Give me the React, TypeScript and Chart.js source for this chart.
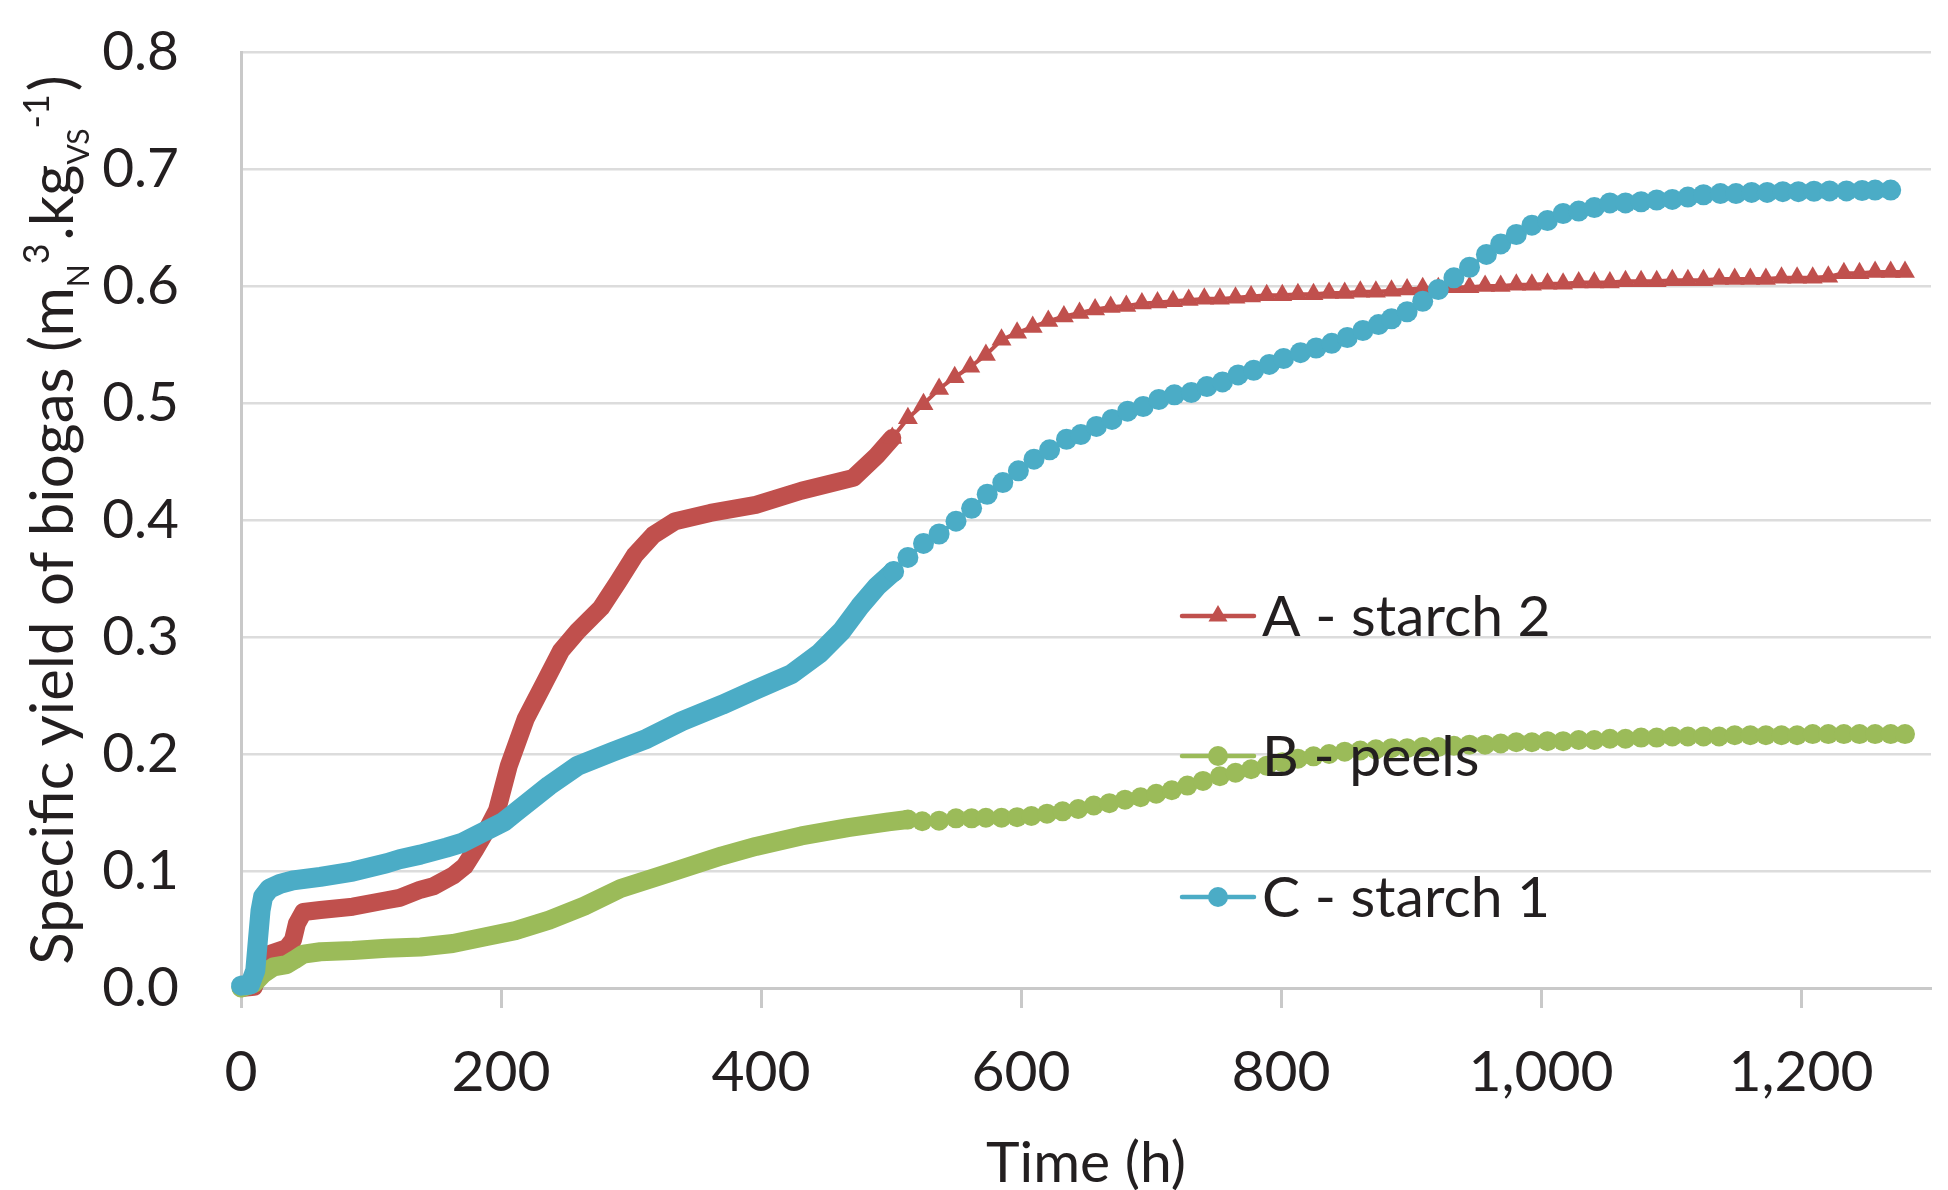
import React, { useEffect, useRef } from 'react';
import { Chart, registerables } from 'chart.js';

Chart.register(...registerables);

// ---------- DATA ----------
const seriesLabels = ['A - starch 2', 'B - peels', 'C - starch 1'];

// A - starch 2
const starch2Time = [
  0, 10, 14, 17, 22, 35, 40, 43, 48, 61, 86, 112, 122, 138, 148, 163, 172, 180, 189, 197, 206, 219, 233, 246, 259, 277, 290, 303, 317, 334, 361, 396, 431, 471, 489,
  501, 513, 525, 537, 549, 561, 573, 585, 597, 609, 621, 633, 645, 657, 669, 681, 693, 705, 717, 729, 741, 753, 765, 777, 789, 801,
  813, 825, 837, 849, 861, 873, 885, 897, 909, 921, 933, 945, 957, 969, 981, 993, 1005, 1017, 1029, 1041, 1053, 1065, 1077, 1089,
  1101, 1113, 1125, 1137, 1149, 1161, 1173, 1185, 1197, 1209, 1221, 1233, 1245, 1257, 1269, 1280,
];
const starch2Value = [
  0.0, 0.001, 0.015, 0.026, 0.029, 0.034, 0.041, 0.055, 0.065, 0.0667, 0.0695, 0.075, 0.077, 0.084, 0.087, 0.096, 0.104, 0.118, 0.135, 0.152, 0.19, 0.23, 0.26, 0.288, 0.305, 0.325, 0.347, 0.37, 0.387, 0.399, 0.406, 0.413, 0.425, 0.436, 0.455,
  0.47, 0.487, 0.499, 0.512, 0.522, 0.531, 0.541, 0.554, 0.56, 0.565, 0.57, 0.574, 0.577, 0.58, 0.582, 0.583, 0.585, 0.586, 0.587, 0.588, 0.589, 0.589, 0.59, 0.591, 0.592, 0.592,
  0.593, 0.593, 0.594, 0.594, 0.595, 0.595, 0.596, 0.597, 0.598, 0.598, 0.599, 0.599, 0.6, 0.6, 0.601, 0.601, 0.602, 0.602, 0.603, 0.603, 0.603, 0.604, 0.604, 0.604,
  0.605, 0.605, 0.605, 0.606, 0.606, 0.606, 0.606, 0.607, 0.607, 0.607, 0.608, 0.611, 0.611, 0.612, 0.612, 0.612,
];

// B - peels
const peelsTime = [
  0, 10, 17, 25, 35, 41, 48, 61, 86, 112, 138, 163, 189, 211, 237, 264, 292, 334, 370, 396, 431, 467, 498,
  513, 524, 537, 550, 562, 573, 585, 597, 608, 620, 632, 644, 656, 668, 680, 692, 704, 716, 728, 740, 753, 765, 777, 789, 801,
  813, 825, 837, 849, 861, 873, 885, 897, 909, 921, 933, 945, 957, 969, 981, 993, 1005, 1017, 1029, 1041, 1053, 1065, 1077, 1089,
  1101, 1113, 1125, 1137, 1149, 1161, 1173, 1185, 1197, 1209, 1221, 1233, 1245, 1257, 1269, 1280,
];
const peelsValue = [
  0.0, 0.004, 0.012, 0.018, 0.02, 0.024, 0.029, 0.031, 0.032, 0.034, 0.035, 0.038, 0.044, 0.049, 0.058, 0.07, 0.085, 0.1, 0.113, 0.121, 0.13, 0.137, 0.142,
  0.144, 0.1425, 0.143, 0.145, 0.145, 0.1455, 0.1455, 0.146, 0.147, 0.149, 0.151, 0.153, 0.156, 0.158, 0.161, 0.163, 0.166, 0.169, 0.173, 0.177, 0.181, 0.184, 0.187, 0.19, 0.193,
  0.196, 0.198, 0.2, 0.202, 0.203, 0.204, 0.205, 0.205, 0.206, 0.206, 0.207, 0.208, 0.208, 0.209, 0.21, 0.21, 0.211, 0.211, 0.212, 0.212, 0.213, 0.213, 0.214, 0.214,
  0.215, 0.215, 0.215, 0.215, 0.216, 0.216, 0.216, 0.216, 0.216, 0.217, 0.217, 0.217, 0.217, 0.217, 0.217, 0.217,
];

// C - starch 1
const starch1Time = [
  0, 7, 11, 13, 15, 17, 22, 30, 40, 61, 86, 112, 122, 138, 158, 170, 184, 202, 211, 237, 259, 286, 312, 339, 370, 396, 423, 445, 462, 476, 489,
  502, 513, 525, 537, 550, 562, 574, 586, 598, 610, 622, 635, 646, 658, 670, 682, 694, 706, 718, 731, 743, 755, 767, 779, 791, 802,
  815, 827, 839, 851, 863, 875, 885, 897, 909, 921, 933, 945, 958, 969, 981, 993, 1005, 1017, 1029, 1041, 1053, 1065, 1077, 1089,
  1101, 1113, 1125, 1138, 1150, 1162, 1174, 1186, 1198, 1210, 1222, 1235, 1247, 1257, 1269,
];
const starch1Value = [
  0.002, 0.003, 0.015, 0.041, 0.066, 0.078, 0.085, 0.089, 0.092, 0.095, 0.0995, 0.1066, 0.11, 0.114, 0.12, 0.124, 0.132, 0.142, 0.15, 0.173, 0.19, 0.202, 0.213, 0.228, 0.242, 0.255, 0.268, 0.286, 0.305, 0.326, 0.343,
  0.356, 0.368, 0.38, 0.388, 0.399, 0.41, 0.422, 0.432, 0.442, 0.452, 0.46, 0.469, 0.473, 0.48, 0.486, 0.493, 0.497, 0.503, 0.507, 0.509, 0.514, 0.518, 0.524, 0.528, 0.533, 0.538,
  0.543, 0.547, 0.551, 0.556, 0.562, 0.567, 0.572, 0.578, 0.587, 0.597, 0.607, 0.616, 0.627, 0.636, 0.644, 0.652, 0.656, 0.662, 0.664, 0.667, 0.671, 0.671, 0.672, 0.6735,
  0.674, 0.676, 0.678, 0.679, 0.679, 0.68, 0.68, 0.6806, 0.6806, 0.681, 0.6813, 0.6813, 0.6816, 0.682, 0.682,
];

const xAxisTitle = 'Time (h)';
// y-axis title pieces: [text, kind]
const yTitleParts: [string, string][] = [
  ['Specific yield of biogas (m', 'n'],
  ['N', 'sub'],
  ['3', 'sup'],
  ['.kg', 'n'],
  ['VS', 'sub'],
  ['-1', 'sup'],
  [')', 'n'],
];

// ---------- STYLE ----------
const W = 1948;
const H = 1190;
const FONT = 'Lato, "Open Sans", "DejaVu Sans", sans-serif';
const TEXT = '#231f20';
const RED = '#C0504D';
const GREEN = '#9BBB59';
const BLUE = '#4BACC6';

const toPoints = (t: number[], v: number[]) => t.map((x, i) => ({ x, y: v[i] }));

function makeDataset(label: string, t: number[], v: number[], color: string, style: string, denseEnd: number, band: number, radius: number, order: number) {
  return {
    label,
    data: toPoints(t, v),
    showLine: true,
    borderColor: color,
    backgroundColor: color,
    borderWidth: 4,
    borderCapStyle: 'round',
    borderJoinStyle: 'round',
    pointStyle: style,
    pointBackgroundColor: color,
    pointBorderColor: color,
    pointBorderWidth: 0,
    pointRadius: (c: any) => (c.raw && c.raw.x < denseEnd ? 0 : radius),
    pointHoverRadius: (c: any) => (c.raw && c.raw.x < denseEnd ? 0 : radius),
    segment: {
      borderWidth: (c: any) => (c.p0.parsed.x < denseEnd ? band : 4),
    },
    tension: 0,
    clip: false,
    order,
  };
}

const textPlugin = {
  id: 'customText',
  afterDraw(chart: any) {
    const ctx = chart.ctx as CanvasRenderingContext2D;
    const area = chart.chartArea;
    ctx.save();
    ctx.fillStyle = TEXT;

    // legend
    const legendRows = [
      { label: seriesLabels[0], color: RED, style: 'triangle', y: 616, r: 11 },
      { label: seriesLabels[1], color: GREEN, style: 'circle', y: 756, r: 10 },
      { label: seriesLabels[2], color: BLUE, style: 'circle', y: 897, r: 10 },
    ];
    for (const row of legendRows) {
      ctx.strokeStyle = row.color;
      ctx.lineWidth = 4.5;
      ctx.lineCap = 'round';
      ctx.beginPath();
      ctx.moveTo(1182, row.y);
      ctx.lineTo(1254, row.y);
      ctx.stroke();
      ctx.fillStyle = row.color;
      ctx.beginPath();
      if (row.style === 'triangle') {
        ctx.moveTo(1218, row.y - row.r);
        ctx.lineTo(1218 + row.r * Math.sin(Math.PI * 2 / 3), row.y + row.r / 2);
        ctx.lineTo(1218 - row.r * Math.sin(Math.PI * 2 / 3), row.y + row.r / 2);
        ctx.closePath();
      } else {
        ctx.arc(1218, row.y, row.r, 0, Math.PI * 2);
      }
      ctx.fill();
      ctx.fillStyle = TEXT;
      ctx.font = `57px ${FONT}`;
      ctx.textAlign = 'left';
      ctx.textBaseline = 'alphabetic';
      ctx.fillText(row.label, 1262, row.y + 20);
    }

    // x-axis title
    ctx.font = `57px ${FONT}`;
    ctx.textAlign = 'center';
    ctx.textBaseline = 'alphabetic';
    ctx.fillText(xAxisTitle, (area.left + area.right) / 2, 1182);

    // y-axis title (rich text)
    const base = 60;
    const fontFor = (k: string) => (k === 'n' ? base : k === 'sub' ? base * 0.5 : base * 0.6);
    const shiftFor = (k: string) => (k === 'n' ? 0 : k === 'sub' ? base * 0.27 : -base * 0.4);
    let total = 0;
    const widths: number[] = [];
    for (const [t, k] of yTitleParts) {
      ctx.font = `${fontFor(k)}px ${FONT}`;
      const w = ctx.measureText(t).width + (k === 'sup' ? 3 : 0);
      widths.push(w);
      total += w;
    }
    ctx.translate(73, (area.top + area.bottom) / 2);
    ctx.rotate(-Math.PI / 2);
    ctx.textAlign = 'left';
    let x = -total / 2;
    yTitleParts.forEach(([t, k], i) => {
      ctx.font = `${fontFor(k)}px ${FONT}`;
      ctx.fillText(t, x, shiftFor(k));
      x += widths[i];
    });
    ctx.restore();
  },
};

export default function App() {
  const ref = useRef<HTMLCanvasElement | null>(null);
  useEffect(() => {
    if (!ref.current) return;
    const chart = new Chart(ref.current, {
      type: 'scatter',
      data: {
        datasets: [
          makeDataset(seriesLabels[0], starch2Time, starch2Value, RED, 'triangle', 500, 18, 11.5, 3),
          makeDataset(seriesLabels[1], peelsTime, peelsValue, GREEN, 'circle', 510, 19, 10, 2),
          makeDataset(seriesLabels[2], starch1Time, starch1Value, BLUE, 'circle', 495, 20, 10.5, 1),
        ] as any,
      },
      options: {
        responsive: false,
        animation: false,
        events: [],
        layout: { padding: { left: 0, top: 52, right: 17, bottom: 0 } },
        plugins: { legend: { display: false }, tooltip: { enabled: false } },
        scales: {
          x: {
            type: 'linear',
            min: 0,
            max: 1300,
            afterFit: (s: any) => { s.height = H - 988; },
            ticks: {
              stepSize: 200,
              includeBounds: false,
              maxRotation: 0,
              autoSkip: false,
              padding: 30,
              color: TEXT,
              font: { family: FONT, size: 57 },
              callback: (v: any) => Number(v).toLocaleString('en-US'),
            },
            grid: {
              drawOnChartArea: false,
              drawTicks: true,
              tickLength: 20,
              tickWidth: 3,
              tickColor: '#c9c9c9',
            },
            border: { display: true, color: '#c9c9c9', width: 3 },
          },
          y: {
            min: 0,
            max: 0.8,
            afterFit: (s: any) => { s.width = 241; s.paddingTop = 0; s.paddingBottom = 0; },
            ticks: {
              stepSize: 0.1,
              padding: 62,
              color: TEXT,
              font: { family: FONT, size: 55 },
              callback: (v: any) => Number(v).toFixed(1),
            },
            grid: { color: '#dcdcdc', lineWidth: 2.5, drawTicks: false },
            border: { display: true, color: '#c9c9c9', width: 3 },
          },
        },
      },
      plugins: [textPlugin],
    });
    return () => chart.destroy();
  }, []);
  return (
    <div style={{ position: 'fixed', left: 0, top: 0, width: W, height: H, background: '#fff' }}>
      <canvas ref={ref} width={W} height={H} style={{ display: 'block' }} />
    </div>
  );
}
